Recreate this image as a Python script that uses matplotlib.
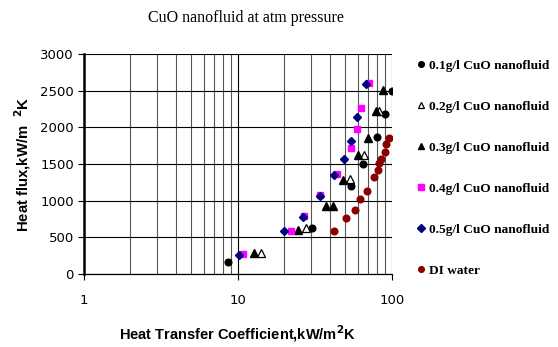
import matplotlib
matplotlib.use("Agg")
import matplotlib.pyplot as plt
from matplotlib.ticker import FixedLocator, NullFormatter, LogLocator

# heat transfer coefficient (kW/m2K) and heat flux (kW/m2) per series
cuo_01_h = [8.6, 30.5, 54.3, 65.2, 80.5, 90.4, 100]
cuo_01_q = [167, 633, 1198, 1501, 1876, 2183, 2500]

cuo_02_h = [14.2, 27.8, 53.7, 65.8, 82.6]
cuo_02_q = [294, 624, 1302, 1618, 2228]

cuo_03_h = [12.8, 24.8, 37.3, 41.3, 48.5, 60.0, 69.8, 79.6, 87.7]
cuo_03_q = [294, 601, 931, 931, 1279, 1618, 1858, 2228, 2509]

cuo_04_h = [10.9, 22.3, 26.8, 34.1, 44.4, 54.3, 59.4, 63.1, 71.0]
cuo_04_q = [276, 592, 796, 1080, 1370, 1718, 1984, 2269, 2604]

cuo_05_h = [10.2, 20.1, 26.4, 34.1, 42.2, 48.9, 54.0, 59.4, 68.5]
cuo_05_q = [267, 583, 782, 1071, 1347, 1564, 1817, 2138, 2599]

water_h = [41.9, 50.6, 57.7, 62.7, 69.3, 76.2, 81.3, 83.3, 85.5, 90.8, 92.1, 96.4]
water_q = [590, 768, 873, 1023, 1128, 1319, 1418, 1510, 1564, 1668, 1773, 1850]

labels = [
    "0.1g/l CuO nanofluid",
    "0.2g/l CuO nanofluid",
    "0.3g/l CuO nanofluid",
    "0.4g/l CuO nanofluid",
    "0.5g/l CuO nanofluid",
    "DI water",
]

fig = plt.figure(figsize=(5.58, 3.47), dpi=100)
ax = fig.add_axes([0.150, 0.210, 0.552, 0.634])

ax.plot(cuo_01_h, cuo_01_q, "o", ms=4.8, color="black", label=labels[0])
ax.plot(cuo_02_h, cuo_02_q, "^", ms=5.8, mfc="white", mec="black", mew=0.9, label=labels[1])
ax.plot(cuo_03_h, cuo_03_q, "^", ms=5.8, color="black", label=labels[2])
ax.plot(cuo_04_h, cuo_04_q, "s", ms=4.8, color="#FF00FF", label=labels[3])
ax.plot(cuo_05_h, cuo_05_q, "D", ms=4.4, color="#000080", label=labels[4])
ax.plot(water_h, water_q, "o", ms=4.8, color="#8B0000", label=labels[5])

ax.set_xscale("log")
ax.set_xlim(1, 100)
ax.set_ylim(0, 3000)
ax.yaxis.set_major_locator(FixedLocator(range(0, 3001, 500)))
ax.xaxis.set_major_locator(FixedLocator([1, 10, 100]))
ax.xaxis.set_minor_locator(LogLocator(base=10, subs=range(2, 10)))
ax.xaxis.set_minor_formatter(NullFormatter())
ax.set_xticklabels(["1", "10", "100"])

ax.grid(True, which="major", axis="both", color="black", lw=0.8)
ax.grid(True, which="minor", axis="x", color="#555555", lw=0.8)
ax.set_axisbelow(True)

for side in ["top", "right"]:
    ax.spines[side].set_visible(False)
ax.spines["left"].set_linewidth(1.8)
ax.spines["bottom"].set_linewidth(0.9)
ax.tick_params(axis="both", which="major", direction="out", length=4, width=0.8,
               labelsize=9.5, pad=3)
ax.tick_params(axis="x", which="major", pad=10)
ax.tick_params(axis="x", which="minor", length=0)

ax.set_xlabel("Heat Transfer Coefficient,kW/m$\\mathbf{^2}$K", fontweight="bold",
              fontsize=10.5, family="Liberation Sans", labelpad=12)
ax.set_ylabel("Heat flux,kW/m  $\\mathbf{^2}$K", fontweight="bold",
              fontsize=10.7, family="Liberation Sans", labelpad=5)
fig.text(0.44, 0.948, "CuO nanofluid at atm pressure", ha="center", va="center",
         family="Liberation Serif", fontsize=11.5)

fig.legend(loc="upper left", bbox_to_anchor=(0.737, 0.843), frameon=False,
           handlelength=0.6, handletextpad=0.35, labelspacing=2.15,
           borderaxespad=0, markerscale=0.85,
           prop={"family": "Liberation Serif", "weight": "bold", "size": 9.6})

fig.savefig("out.png", dpi=100)
